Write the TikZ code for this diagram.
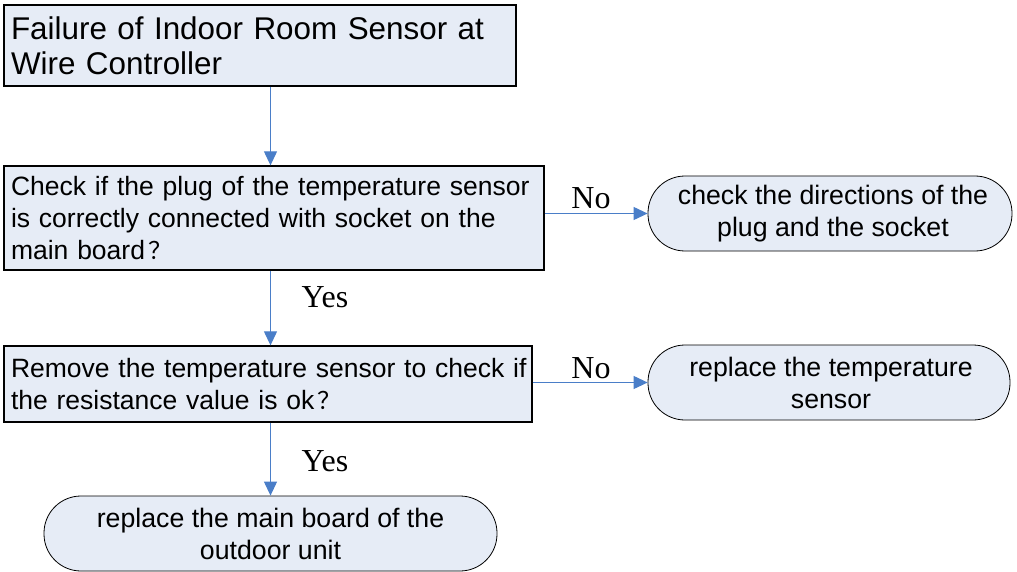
\documentclass[tikz,border=0pt]{standalone}
\usepackage{fontspec}
\setmainfont{Liberation Sans}
\newfontfamily\labelfont{Liberation Serif}
\newfontfamily\cjkfont{Noto Sans CJK SC}
\usetikzlibrary{arrows.meta}
\definecolor{boxfill}{RGB}{230,236,246}
\definecolor{arrowblue}{RGB}{74,126,200}
\tikzset{
  procbox/.style={draw=black, line width=1.3pt, fill=boxfill, inner xsep=7pt, inner ysep=0pt, align=left, anchor=center},
  endbox/.style={draw=black, line width=0.8pt, fill=boxfill, align=center, inner sep=0pt, font=\fontsize{26.7}{32}\selectfont},
  arr/.style={draw=arrowblue, line width=1.1pt, -{Triangle[length=14pt,width=13pt]}},
  lbl/.style={font=\labelfont\fontsize{32}{36}\selectfont, inner sep=0pt}
}
\newcommand{\fwq}{\hspace{3pt}{\cjkfont\fontsize{24}{32}\selectfont ？}}
\begin{document}
\begin{tikzpicture}[x=1pt,y=-1pt]
\useasboundingbox (0,0) rectangle (1017,572);
\node[procbox, text width=498pt, minimum height=81pt, font=\fontsize{31.4}{35}\selectfont] (box1) at (260,45.5)
  {\mbox{Failure of Indoor Room Sensor at}\\Wire Controller};
\node[procbox, text width=526pt, minimum height=104pt, font=\fontsize{26.5}{32}\selectfont] (box2) at (274,218)
  {\mbox{Check if the plug of the temperature sensor}\\\mbox{is correctly connected with socket on the}\\main board\fwq};
\node[procbox, text width=514pt, minimum height=76pt, font=\fontsize{26.5}{32}\selectfont] (box3) at (268,384)
  {\mbox{Remove the temperature sensor to check if}\\\mbox{the resistance value is ok\fwq}};
\node[endbox, minimum width=364pt, minimum height=75pt, rounded corners=37pt] (rnd1) at (830,213.5)
  {\hspace{6pt}check the directions of the\\\hspace{6pt}plug and the socket};
\node[endbox, minimum width=362pt, minimum height=75pt, rounded corners=37pt] (rnd2) at (829,382.5)
  {\hspace{4pt}replace the temperature\\\hspace{4pt}sensor};
\node[endbox, minimum width=453pt, minimum height=75pt, rounded corners=37pt] (rnd3) at (270.5,533.5)
  {replace the main board of the\\outdoor unit};
\draw[arr] (box1.south -| rnd3.north) -- (box2.north -| rnd3.north);
\draw[arr] (box2.south -| rnd3.north) -- (box3.north -| rnd3.north);
\draw[arr] (box3.south -| rnd3.north) -- (rnd3.north);
\draw[arr] (box2.east |- rnd1.west) -- (rnd1.west);
\draw[arr] (box3.east |- rnd2.west) -- (rnd2.west);
\node[lbl] (no1) at (591,198) {No};
\node[lbl] (yes1) at (325,297) {Yes};
\node[lbl] (no2) at (591,368) {No};
\node[lbl] (yes2) at (325,461) {Yes};
\end{tikzpicture}
\end{document}
